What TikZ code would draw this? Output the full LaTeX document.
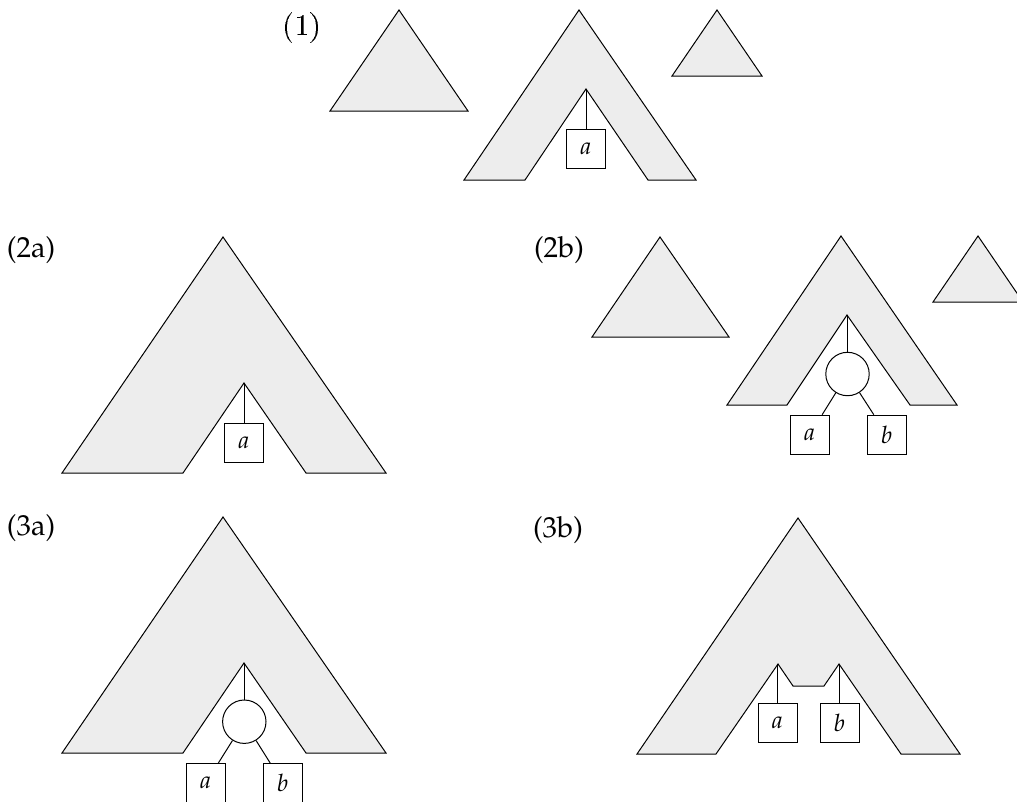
\documentclass[tikz,border=0pt]{standalone}
\usepackage[T1]{fontenc}
\usepackage{graphicx}
\begin{document}
\begin{tikzpicture}[x=1pt,y=-1pt,
  shade/.style={fill=black!7,draw=black,line width=1pt,line join=miter},
  leaf/.style={draw,fill=white,line width=1pt,minimum size=39pt,inner sep=0pt,
    font=\fontsize{24}{28}\fontfamily{ppl}\itshape\selectfont},
  inner/.style={draw,fill=white,line width=1pt,circle,minimum size=43.4pt,inner sep=0pt},
  edge/.style={line width=1pt},
  lab/.style={font=\fontsize{29}{34}\fontfamily{ppl}\selectfont,inner sep=0pt},
]
\useasboundingbox (0,0) rectangle (1017,801);
\clip (0,0) rectangle (1017,801);

% ---------- (1)
\node[inner sep=0pt] (l1) at (302,28) {\scalebox{3.1}{\fontsize{10}{12}\selectfont (1)}};
\draw[shade] (399,10) -- (330,111) -- (468,111) -- cycle;
\draw[shade] (579,10) -- (464,180) -- (525,180) -- (586,89) -- (648,180) -- (696,180) -- cycle;
\coordinate (p1) at (586,89);
\node[leaf] (a1) at (586,149) {a};
\draw[edge] (p1) -- (a1);
\draw[shade] (717,10) -- (672,76) -- (762,76) -- cycle;

% ---------- (2a)
\node[lab] (l2a) at (31,250) {(2a)};
\draw[shade] (223,237) -- (62,473) -- (183,473) -- (244,383) -- (306,473) -- (386,473) -- cycle;
\coordinate (p2a) at (244,383);
\node[leaf] (a2a) at (244,443) {a};
\draw[edge] (p2a) -- (a2a);

% ---------- (2b)
\node[lab] (l2b) at (559,250) {(2b)};
\draw[shade] (660,237) -- (592,337) -- (729,337) -- cycle;
\draw[shade] (841,236) -- (727,405) -- (787,405) -- (847,315) -- (910,405) -- (957,405) -- cycle;
\coordinate (p2b) at (847.5,315);
\node[inner] (c2b) at (847.5,374) {};
\node[leaf] (a2b) at (809.7,434.7) {a};
\node[leaf] (b2b) at (886.7,434.7) {b};
\draw[edge] (p2b) -- (c2b);
\draw[edge] (c2b) -- (a2b);
\draw[edge] (c2b) -- (b2b);
\draw[shade] (978,236) -- (933,302) -- (1023,302) -- cycle;

% ---------- (3a)
\node[lab] (l3a) at (31,528) {(3a)};
\draw[shade] (223,517) -- (62,753) -- (183,753) -- (244,663) -- (306,753) -- (386,753) -- cycle;
\coordinate (p3a) at (244.3,663);
\node[inner] (c3a) at (244.3,721.7) {};
\node[leaf] (a3a) at (205.8,783) {a};
\node[leaf] (b3a) at (282.7,783) {b};
\draw[edge] (p3a) -- (c3a);
\draw[edge] (c3a) -- (a3a);
\draw[edge] (c3a) -- (b3a);

% ---------- (3b)
\node[lab] (l3b) at (558,530) {(3b)};
\draw[shade] (798,518) -- (637,754) -- (716,754) -- (778,664) -- (793,686) -- (824,686) -- (839,664) -- (901,754) -- (960,754) -- cycle;
\coordinate (p3b1) at (777.5,664);
\coordinate (p3b2) at (839.5,664);
\node[leaf] (a3b) at (777.5,722.8) {a};
\node[leaf] (b3b) at (839.5,722.8) {b};
\draw[edge] (p3b1) -- (a3b);
\draw[edge] (p3b2) -- (b3b);
\end{tikzpicture}
\end{document}
